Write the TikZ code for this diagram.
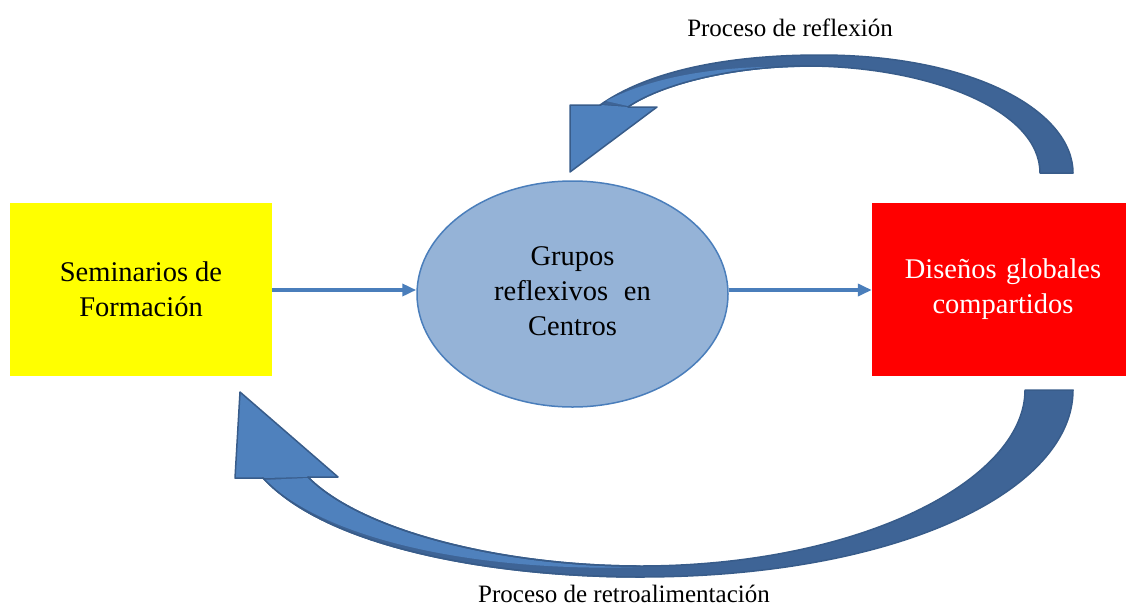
\documentclass[tikz,border=0pt]{standalone}
\usepackage{fontspec}
\setmainfont{Liberation Serif}
\usetikzlibrary{arrows.meta,shapes.geometric}
\definecolor{arrowblue}{RGB}{74,126,187}
\definecolor{ellfill}{RGB}{149,179,215}
\definecolor{darkarc}{RGB}{62,100,150}
\definecolor{lightarc}{RGB}{79,129,189}
\definecolor{arcline}{RGB}{56,92,138}
\definecolor{pureyellow}{RGB}{255,255,0}
\definecolor{purered}{RGB}{255,0,0}
\tikzset{
  boxtext/.style={font=\fontsize{28.5}{35}\selectfont, align=center, inner sep=0pt},
  conn/.style={draw=arrowblue, line width=3.5pt, -{Triangle[length=14pt,width=12pt]}},
  lbl/.style={font=\fontsize{25}{30}\selectfont, inner sep=0pt},
  arcdark/.style={fill=darkarc, draw=arcline, line width=1.5pt, line join=round},
  arclight/.style={fill=lightarc, draw=none},
  headfill/.style={fill=lightarc, draw=none},
  edge/.style={draw=arcline, line width=1.5pt, line join=round, line cap=round},
}
\begin{document}
\begin{tikzpicture}[x=1pt,y=-1pt]
\useasboundingbox (0,0) rectangle (1126,608);
% boxes
\node[boxtext, fill=pureyellow, minimum width=262pt, minimum height=173pt] (sem) at (141,289.5) {Seminarios de\\Formación};
\node[boxtext, fill=purered, text=white, minimum width=254pt, minimum height=173pt, text width=254pt] (dis) at (999,289.5) {\hspace*{8pt}Diseños globales\\\hspace*{8pt}compartidos};
\node[boxtext, ellipse, fill=ellfill, draw=arrowblue, line width=1.5pt, minimum width=311pt, minimum height=226pt] (gru) at (572.5,294) {};
\node[boxtext] (grutext) at (572.5,291) {Grupos\\reflexivos\hspace{0.3em} en\\Centros};
% straight connectors
\draw[conn] (sem.east |- 0,290) -- (gru.west |- 0,290);
\draw[conn] (gru.east |- 0,290) -- (dis.west |- 0,290);
% top curved arrow (Proceso de reflexion)
\path[arcdark] (600,105) .. controls (650,70) and (730,55) .. (820,55)
  .. controls (975,55) and (1073,112) .. (1073,173)
  -- (1040,173) .. controls (1040,110) and (930,67) .. (810,66)
  .. controls (730,66) and (660,85) .. (628,107) -- cycle;
\path[arclight] (606,101) .. controls (656,75) and (725,65) .. (800,67)
  .. controls (730,67.5) and (660,86) .. (628,106) -- cycle;
\path[headfill] (570,105) -- (601,105) -- (628,107) -- (657,107) -- (570,172) -- cycle;
\path[edge] (628,107) .. controls (660,85) and (730,66) .. (810,66);
\path[edge] (601,105) -- (570,105) -- (570,172) -- (657,107) -- (628,107);
% bottom curved arrow (Proceso de retroalimentacion)
\path[arcdark] (263,478) .. controls (330,550) and (500,577) .. (640,577)
  .. controls (900,577) and (1073,490) .. (1073,390)
  -- (1025,390) .. controls (1025,480) and (860,566) .. (640,566)
  .. controls (500,566) and (360,530) .. (308,477) -- cycle;
\path[arclight] (308,478) .. controls (360,531) and (500,567) .. (640,567)
  .. controls (500,572) and (335,547) .. (265,480) -- cycle;
\path[headfill] (240,392) -- (338,477) -- (308,477) -- (263,478) -- (235,478) -- cycle;
\path[edge] (263,478) -- (235,478) -- (240,392) -- (338,477) -- (308,477);
\path[edge] (308,477) .. controls (360,530) and (500,566) .. (640,566);
\path[edge] (263,478) .. controls (330,550) and (500,577) .. (640,577);
% labels
\node[lbl] (lref) at (790,28) {Proceso de reflexión};
\node[lbl] (lret) at (624,594) {Proceso de retroalimentación};
\end{tikzpicture}
\end{document}
